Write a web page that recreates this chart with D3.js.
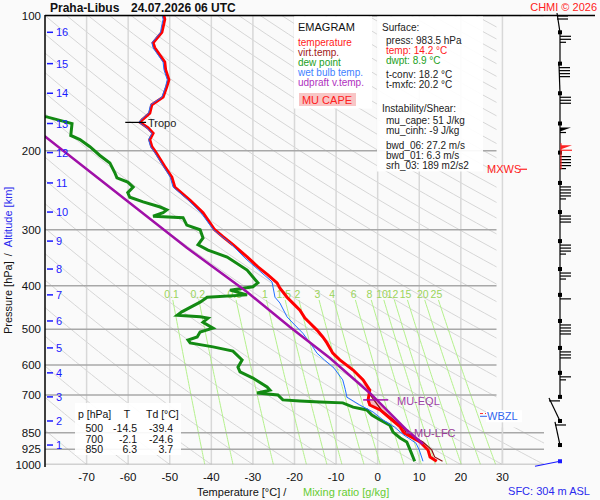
<!DOCTYPE html>
<html>
<head>
<meta charset="utf-8">
<script src="https://cdn.jsdelivr.net/npm/d3@7"></script>
<style>
  body { margin: 0; background: #fafafa; }
  text { font-family: "Liberation Sans", Arial, sans-serif; }
</style>
</head>
<body>
<div id="chart"></div>
<script>
/**
 */
const stationName = "Praha-Libus";
const runTime = "24.07.2026 06 UTC";

const pTicks = [100, 200, 300, 400, 500, 600, 700, 850, 925, 1000];
const tTicks = [-70, -60, -50, -40, -30, -20, -10, 0, 10, 20, 30];
const altKm = [1, 2, 3, 4, 5, 6, 7, 8, 9, 10, 11, 12, 13, 14, 15, 16];
const altP = [905, 800, 707, 625, 550, 479, 419, 367, 318, 274, 236, 202, 174, 149, 128, 109];
const mixRatios = [0.1, 0.2, 0.5, 1, 1.5, 2, 3, 4, 6, 8, 10, 12, 15, 20, 25];

// temperature
const tempP = [100, 102, 106, 109, 115, 118, 121, 127, 132, 139, 144, 152, 158, 165, 171, 173, 178, 183, 189, 196,
  202, 217, 229, 241, 258, 275, 300, 311, 324, 345, 363, 378, 394, 405, 424, 437, 453, 472, 484, 502,
  520, 536, 565, 585, 616, 648, 683, 700, 718, 737, 756, 788, 825, 850, 891, 928, 962, 983.5];
const tempT = [-51.4, -51.2, -51.6, -51.9, -54.0, -53.6, -52.8, -51.2, -51.0, -50.2, -50.7, -51.6, -54.3, -54.8, -56.7, -57.1, -55.2, -54.0, -54.8, -54.3,
  -53.3, -51.2, -49.5, -48.8, -45.1, -42.0, -39.2, -37.2, -34.8, -31.4, -28.8, -26.4, -24.2, -23.5, -21.8, -20.4, -18.7, -17.5, -16.3, -14.6,
  -13.2, -12.2, -10.8, -9.1, -5.9, -3.5, -1.9, -2.1, -2.3, -1.9, 0.6, 2.9, 5.4, 6.3, 10.2, 12.1, 12.6, 14.2];

// virtual temperature (visible only near the ground)
const virtP = [700, 756, 788, 825, 850, 891, 928, 962, 983.5];
const virtT = [-1.8, 0.9, 3.3, 5.9, 7.0, 10.9, 13.0, 13.7, 15.6];

// dew point
const dewP = [168, 168, 174, 185, 189, 196, 205, 213, 224, 230, 235, 241, 248, 254, 260, 267, 271, 275, 280, 282,
  293, 300, 313, 324, 333, 345, 369, 394, 402, 409, 419, 424, 435, 457, 465, 469, 472, 482, 497, 507,
  520, 528, 536, 547, 559, 585, 607, 622, 642, 672, 683, 693, 700, 718, 722, 726, 729, 745, 756, 776,
  796, 817, 847, 873, 891, 928, 983.5];
const dewT = [-81.2, -79.8, -73.5, -73.8, -71.6, -69.2, -66.8, -64.4, -63.2, -62.7, -60.1, -58.8, -60.1, -59.6, -56.4, -52.3, -50.7, -51.6, -54.0, -46.8,
  -45.9, -42.7, -42.0, -43.2, -40.8, -36.2, -31.4, -28.8, -30.0, -35.5, -31.4, -41.0, -42.7, -47.1, -48.2, -42.7, -40.8, -42.0, -39.6, -42.7,
  -43.4, -45.6, -45.1, -39.6, -34.8, -32.6, -33.6, -33.1, -30.0, -26.6, -25.9, -29.0, -24.0, -22.8, -18.7, -13.9, -8.4, -5.9, -2.6, -1.4,
  0.6, 2.9, 3.7, 5.4, 7.0, 7.8, 8.9];

// wet bulb temperature
const wetP = [100, 102, 106, 109, 115, 118, 121, 127, 132, 139, 144, 152, 158, 165, 171, 173, 178, 183, 189, 196,
  202, 217, 229, 241, 258, 275, 300, 321, 347, 369, 392, 424, 437, 469, 484, 510, 528, 547, 565, 585,
  610, 648, 680, 708, 737, 764, 796, 825, 860, 896, 928, 977, 983.5];
const wetT = [-51.8, -51.6, -52.0, -52.2, -54.3, -54.0, -53.2, -51.6, -51.4, -50.6, -51.0, -51.9, -54.6, -55.1, -57.0, -57.4, -55.5, -54.3, -55.1, -54.6,
  -53.6, -51.5, -49.9, -49.2, -45.5, -42.5, -39.5, -35.5, -31.9, -28.6, -25.4, -24.7, -23.5, -21.8, -20.4, -18.0, -16.8, -15.6, -14.6, -12.8,
  -10.5, -8.4, -7.8, -7.4, -4.3, -1.1, 1.3, 4.0, 6.3, 9.2, 10.0, 10.8, 10.9];

// most unstable parcel, virtual temperature
const parcelP = [167, 186, 232, 329, 413, 494, 579, 693, 838, 900];
const parcelT = [-86.0, -80.0, -66.8, -45.9, -31.4, -21.1, -11.5, -1.9, 7.0, 10.9];

const muEqlP = 718, muLfcP = 850, wbzlP = 781, frzP = 770, tropoP = 173, mxwsP = 220;

// winds at each km (knots) and the lean of each staff
const windKt = [10, 10, 15, 30, 40, 10, 25, 35, 30, 45, 45, 55, 30, 38, 25, 20];
const windTipDx = [-5, -11, 0, 0, 0, 0, 0, 0, 0, 0, 0, 0, 0, -1, 0, -3];
const mxwsKt = 60;
const sfcP = 983.5;

const tableP = ["500", "700", "850"];
const tableT = ["-14.5", "-2.1", "6.3"];
const tableTd = ["-39.4", "-24.6", "3.7"];

const legendItems = ["temperature", "virt.temp.", "dew point", "wet bulb temp.", "udpraft v.temp."];
const legendColors = ["#ff1a1a", "#a01818", "#1ca01c", "#3f7fff", "#b030c0"];

const surfaceLines = [
  ["Surface:", "#222", 0], ["press: 983.5 hPa", "#222", 1], ["temp: 14.2 °C", "#ff1a1a", 1], ["dwpt: 8.9 °C", "#1ca01c", 1],
  ["t-conv: 18.2 °C", "#222", 1], ["t-mxfc: 20.2 °C", "#222", 1], ["Instability/Shear:", "#222", 0],
  ["mu_cape: 51 J/kg", "#222", 1], ["mu_cinh: -9 J/kg", "#222", 1], ["bwd_06: 27.2 m/s", "#222", 1],
  ["bwd_01: 6.3 m/s", "#222", 1], ["srh_03: 189 m2/s2", "#222", 1]
];
const surfaceY = [27, 40, 50, 60, 74, 84, 108, 120, 130, 145, 155, 165];

/**
 * Scales
 */
const width = 600, height = 500;
const bg = "#fafafa";
const x = d3.scaleLinear().domain([-80, 40]).range([45, 544]);
const y = d3.scaleLog().domain([100, 1000]).range([15.5, 464.5]);

const svg = d3.select("#chart").append("svg")
  .attr("width", width).attr("height", height)
  .style("background", bg);

svg.append("defs").append("clipPath").attr("id", "plot")
  .append("rect").attr("x", 45).attr("y", 15.5).attr("width", 499).attr("height", 449);

const line = d3.line().x(d => x(d[1])).y(d => y(d[0]));
const zip = (a, b) => a.map((v, i) => [v, b[i]]);

/**
 * Background grid
 */
const grid = svg.append("g").attr("clip-path", "url(#plot)");

// dry adiabats
const pSteps = d3.range(100, 1001, 10);
d3.range(-80, 341, 10).forEach(th => {
  grid.append("path")
    .attr("d", line(pSteps.map(p => [p, (th + 273.15) * Math.pow(p / 1000, 0.286) - 273.15])))
    .attr("fill", "none").attr("stroke", "#d6d6d6").attr("stroke-width", 1);
});

// isotherms
grid.selectAll(".iso").data(tTicks).join("line")
  .attr("x1", d => x(d)).attr("x2", d => x(d))
  .attr("y1", y(100)).attr("y2", y(1000))
  .attr("stroke", "#d8d8d8").attr("stroke-width", 1.5);

// mixing ratio lines
function tdFromW(w, p) {
  const e = w * p / (622 + w);
  const l = Math.log(e / 6.112);
  return 243.5 * l / (17.67 - l);
}
const mrP = d3.range(430, 1001, 10);
mixRatios.forEach(w => {
  grid.append("path")
    .attr("d", line(mrP.map(p => [p, tdFromW(w, p)])))
    .attr("fill", "none").attr("stroke", "#b4f08c").attr("stroke-width", 1);
});

// isobars
grid.selectAll(".isobar").data(pTicks).join("line")
  .attr("x1", 45).attr("x2", 544)
  .attr("y1", d => y(d)).attr("y2", d => y(d))
  .attr("stroke", "#a8a8a8").attr("stroke-width", 1.5);

// the wind panel hides the upper right corner of the grid
svg.append("rect").attr("x", 496.5).attr("y", 16.5).attr("width", 104).attr("height", 411)
  .attr("fill", bg);
svg.append("line").attr("x1", x(30)).attr("x2", x(30)).attr("y1", 15.5).attr("y2", 464.5)
  .attr("stroke", "#d8d8d8").attr("stroke-width", 1.5);

// mixing ratio labels
svg.selectAll(".mrl").data(mixRatios).join("text")
  .attr("x", d => x(tdFromW(d, 417))).attr("y", y(417) + 4)
  .attr("text-anchor", "middle").attr("font-size", 10.5).attr("fill", "#9bd45a")
  .text(d => d);

/**
 * Sounding curves
 */
const curves = svg.append("g").attr("clip-path", "url(#plot)");

// MU CAPE area
const tInterp = d3.scaleLinear().domain(tempP).range(tempT);
const pInterp = d3.scaleLinear().domain(parcelP).range(parcelT);
const capeLevels = [muEqlP].concat(tempP.filter(p => p > muEqlP && p < muLfcP), [muLfcP]);
curves.append("path")
  .attr("d", d3.area().y(p => y(p)).x0(p => x(tInterp(p))).x1(p => x(pInterp(p)))(capeLevels))
  .attr("fill", "#f4bcc4");

curves.append("path").attr("d", line(zip(dewP, dewT)))
  .attr("fill", "none").attr("stroke", "#138a13").attr("stroke-width", 3);
curves.append("path").attr("d", line(zip(virtP, virtT)))
  .attr("fill", "none").attr("stroke", "#8b1010").attr("stroke-width", 1.2);
curves.append("path").attr("d", line(zip(tempP, tempT)))
  .attr("fill", "none").attr("stroke", "#ff0000").attr("stroke-width", 3);
curves.append("path").attr("d", line(zip(wetP, wetT)))
  .attr("fill", "none").attr("stroke", "#1f6fff").attr("stroke-width", 1);
curves.append("path").attr("d", line(zip(parcelP, parcelT)))
  .attr("fill", "none").attr("stroke", "#a010a8").attr("stroke-width", 2.5);

// markers
const mark = svg.append("g");
mark.append("line").attr("x1", x(pInterp(muEqlP)) - 13).attr("x2", x(pInterp(muEqlP)) + 12)
  .attr("y1", y(muEqlP)).attr("y2", y(muEqlP)).attr("stroke", "#a010a8").attr("stroke-width", 1.5);
mark.append("text").attr("x", 397).attr("y", y(muEqlP) + 5).attr("font-size", 11)
  .attr("fill", "#a040a8").text("MU-EQL");
mark.append("line").attr("x1", x(pInterp(muLfcP)) - 4).attr("x2", x(pInterp(muLfcP)) + 1)
  .attr("y1", y(muLfcP)).attr("y2", y(muLfcP)).attr("stroke", "#a040a8").attr("stroke-width", 1.5);
mark.append("text").attr("x", 414).attr("y", y(muLfcP) + 4).attr("font-size", 11)
  .attr("fill", "#9a3c9a").text("MU-LFC");

mark.append("line").attr("x1", x(-60.7)).attr("x2", x(-55.7)).attr("y1", y(tropoP)).attr("y2", y(tropoP))
  .attr("stroke", "#000").attr("stroke-width", 1.2);
mark.append("text").attr("x", 148).attr("y", y(tropoP) + 5).attr("font-size", 11)
  .attr("fill", "#222").text("Tropo");

mark.append("line").attr("x1", 480).attr("x2", 506).attr("y1", y(frzP)).attr("y2", y(frzP))
  .attr("stroke", "#ff3030").attr("stroke-dasharray", "3,2");
mark.append("rect").attr("x", 486).attr("y", y(wbzlP) - 6).attr("width", 36).attr("height", 12).attr("fill", "#fff");
mark.append("line").attr("x1", 480).attr("x2", 487).attr("y1", y(wbzlP)).attr("y2", y(wbzlP))
  .attr("stroke", "#3366ee");
mark.append("text").attr("x", 487).attr("y", y(wbzlP) + 4).attr("font-size", 11)
  .attr("fill", "#3366ee").text("WBZL");

mark.append("text").attr("x", 487).attr("y", y(mxwsP) + 4).attr("font-size", 11)
  .attr("fill", "#ff2020").text("MXWS");
mark.append("line").attr("x1", 520).attr("x2", 527).attr("y1", y(mxwsP)).attr("y2", y(mxwsP))
  .attr("stroke", "#ff2020").attr("stroke-width", 1.2);

/**
 * Axes and labels
 */
svg.append("line").attr("x1", 45).attr("x2", 595).attr("y1", 15.5).attr("y2", 15.5)
  .attr("stroke", "#000").attr("stroke-width", 1.5);
svg.append("line").attr("x1", 45).attr("x2", 45).attr("y1", 15).attr("y2", 467)
  .attr("stroke", "#000").attr("stroke-width", 1.5);

svg.selectAll(".pl").data(pTicks).join("text")
  .attr("x", 41).attr("y", d => y(d) + 4).attr("text-anchor", "end")
  .attr("font-size", 11.5).attr("fill", "#111").text(d => d);

svg.selectAll(".tl").data(tTicks).join("text")
  .attr("x", d => x(d)).attr("y", 481).attr("text-anchor", "middle")
  .attr("font-size", 11.5).attr("fill", "#111").text(d => d);

const alt = svg.append("g");
alt.selectAll("line").data(altP).join("line")
  .attr("x1", 47).attr("x2", 53).attr("y1", d => y(d)).attr("y2", d => y(d))
  .attr("stroke", "#1a1aff").attr("stroke-width", 1.5);
alt.selectAll("text").data(altP).join("text")
  .attr("x", 56).attr("y", d => y(d) + 4).attr("font-size", 11).attr("fill", "#1a1aff")
  .text((d, i) => altKm[i]);

svg.append("text").attr("x", 50).attr("y", 12).attr("font-size", 12).attr("font-weight", "bold")
  .attr("fill", "#111").text(stationName);
svg.append("text").attr("x", 131).attr("y", 12).attr("font-size", 12).attr("font-weight", "bold")
  .attr("fill", "#111").text(runTime);
svg.append("text").attr("x", 597).attr("y", 11).attr("text-anchor", "end").attr("font-size", 11)
  .attr("fill", "#ff2020").text("CHMI © 2026");

svg.append("text").attr("x", 197).attr("y", 496).attr("font-size", 11).attr("fill", "#111")
  .text("Temperature [°C]  /");
svg.append("text").attr("x", 303).attr("y", 496).attr("font-size", 11).attr("fill", "#66cc33")
  .text("Mixing ratio [g/kg]");
svg.append("text").attr("x", 590).attr("y", 495).attr("text-anchor", "end").attr("font-size", 11)
  .attr("fill", "#2a2aee").text("SFC: 304 m ASL");

const yTitle = svg.append("text").attr("transform", "translate(12,334) rotate(-90)")
  .attr("font-size", 11).attr("fill", "#111");
yTitle.append("tspan").text("Pressure [hPa]");
yTitle.append("tspan").attr("dx", 5).text("/");
yTitle.append("tspan").attr("dx", 6).attr("fill", "#2a2aee").text("Altitude [km]");

/**
 * Text boxes
 */
const leg = svg.append("g");
leg.append("rect").attr("x", 294).attr("y", 16.5).attr("width", 78).attr("height", 92).attr("fill", "#fff");
leg.append("text").attr("x", 298).attr("y", 31).attr("font-size", 11).attr("fill", "#111").text("EMAGRAM");
leg.selectAll(".li").data(legendItems).join("text")
  .attr("x", 298).attr("y", (d, i) => 45.5 + i * 10).attr("font-size", 10)
  .attr("fill", (d, i) => legendColors[i]).text(d => d);
leg.append("rect").attr("x", 299).attr("y", 93).attr("width", 57).attr("height", 13).attr("fill", "#f8c6c6");
leg.append("text").attr("x", 327).attr("y", 104).attr("text-anchor", "middle").attr("font-size", 11)
  .attr("fill", "#ff2020").text("MU CAPE");

const sfc = svg.append("g");
sfc.append("rect").attr("x", 377).attr("y", 16.5).attr("width", 106).attr("height", 155)
  .attr("fill", "#fff").attr("fill-opacity", 0.92);
sfc.selectAll("text").data(surfaceLines).join("text")
  .attr("x", d => d[2] ? 386 : 382).attr("y", (d, i) => surfaceY[i] + 3.5)
  .attr("font-size", 10).attr("fill", d => d[1]).text(d => d[0]);

const tab = svg.append("g");
tab.append("rect").attr("x", 75).attr("y", 403).attr("width", 106).attr("height", 52)
  .attr("fill", "#fff").attr("fill-opacity", 0.92);
tab.append("text").attr("x", 78).attr("y", 418).attr("font-size", 10.5).attr("fill", "#111").text("p [hPa]");
tab.append("text").attr("x", 127).attr("y", 418).attr("text-anchor", "middle").attr("font-size", 10.5).attr("fill", "#111").text("T");
tab.append("text").attr("x", 146).attr("y", 418).attr("font-size", 10.5).attr("fill", "#111").text("Td [°C]");
[tableP, tableT, tableTd].forEach((col, c) => {
  tab.selectAll(".c" + c).data(col).join("text")
    .attr("x", [103, 137, 173][c]).attr("y", (d, i) => 432 + i * 10.5)
    .attr("text-anchor", "end").attr("font-size", 10.5).attr("fill", "#111").text(d => d);
});

/**
 * Wind barbs
 */
const wind = svg.append("g");
const wx = 560;

function feathers(g, x0, y0, kt, color) {
  let k = Math.round(kt / 5) * 5, yy = y0;
  while (k >= 50) {
    g.append("path").attr("d", `M${x0},${yy}L${x0 + 11},${yy}L${x0},${yy + 4}Z`).attr("fill", color);
    yy += 5; k -= 50;
  }
  while (k >= 10) {
    g.append("line").attr("x1", x0).attr("x2", x0 + 11).attr("y1", yy).attr("y2", yy)
      .attr("stroke", color).attr("stroke-width", 1.2);
    yy += 3; k -= 10;
  }
  if (k >= 5) {
    g.append("line").attr("x1", x0).attr("x2", x0 + 6).attr("y1", yy).attr("y2", yy)
      .attr("stroke", color).attr("stroke-width", 1.2);
  }
}

altP.forEach((p, i) => {
  const yb = y(p);
  const yt = i === altP.length - 1 ? 13 : y(altP[i + 1]) + 1;
  const xt = wx + windTipDx[i];
  wind.append("line").attr("x1", wx).attr("y1", yb).attr("x2", xt).attr("y2", yt)
    .attr("stroke", "#000").attr("stroke-width", 1.2);
  feathers(wind, xt, yt + 3, windKt[i], "#000");
  wind.append("rect").attr("x", wx - 2).attr("y", yb - 2).attr("width", 4).attr("height", 4).attr("fill", "#000");
});

// max wind
wind.append("line").attr("x1", wx + 1).attr("x2", wx + 1).attr("y1", y(mxwsP)).attr("y2", y(mxwsP) - 26)
  .attr("stroke", "#ff2020").attr("stroke-width", 1.2);
feathers(wind, wx + 1, y(mxwsP) - 24, mxwsKt, "#ff2020");

// surface wind
wind.append("line").attr("x1", wx).attr("y1", y(sfcP)).attr("x2", wx - 25).attr("y2", y(sfcP) + 5)
  .attr("stroke", "#1a1aff").attr("stroke-width", 1.2);
wind.append("rect").attr("x", wx - 2).attr("y", y(sfcP) - 2).attr("width", 4).attr("height", 4).attr("fill", "#1a1aff");
</script>
</body>
</html>
